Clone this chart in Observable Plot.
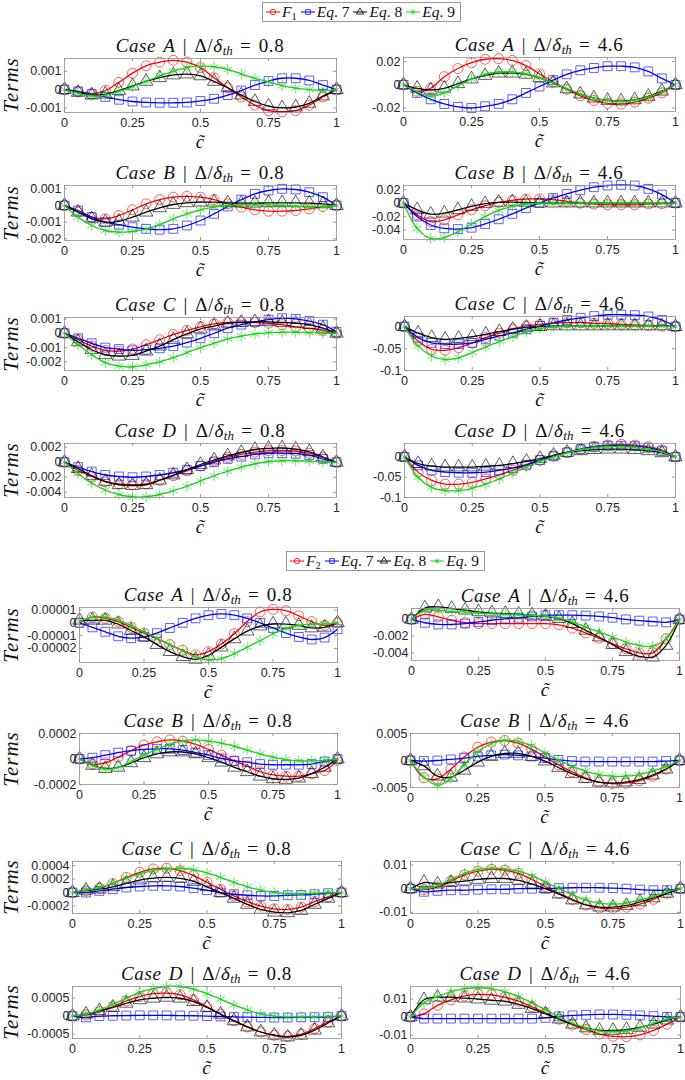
<!DOCTYPE html>
<html><head><meta charset="utf-8">
<script src="https://cdn.jsdelivr.net/npm/d3@7"></script>
<script src="https://cdn.jsdelivr.net/npm/@observablehq/plot@0.6"></script>
<style>
body{margin:0;background:#fff;}
#root{position:relative;width:685px;height:1080px;overflow:hidden;font-family:"Liberation Serif","DejaVu Serif",serif;color:#111;}
.abs{position:absolute;white-space:nowrap;}
.title{font-size:19px;transform:translate(-50%,-50%);line-height:1;font-weight:normal;letter-spacing:0.6px;word-spacing:2px;}
.title sub{font-size:68%;vertical-align:-0.3em;line-height:0;letter-spacing:0;}
.xlab{font-size:19px;font-style:italic;transform:translate(-50%,-50%);line-height:1;}
.ylab{font-size:21px;font-style:italic;letter-spacing:1px;transform:translate(-50%,-50%) rotate(-90deg);line-height:1;}
.legend{border:1px solid #9a9a9a;background:#fff;display:flex;align-items:center;height:18px;padding:0 2px;font-size:15.5px;line-height:1;}
.legend .it{display:flex;align-items:center;margin-right:3px;}
.legend sub{font-size:68%;vertical-align:-0.3em;line-height:0;}
svg.pl{position:absolute;}
</style></head><body><div id="root"></div>
<script>
// ---------- shared axes ----------
const cTilde = [0,0.05,0.1,0.15,0.2,0.25,0.3,0.35,0.4,0.45,0.5,0.55,0.6,0.65,0.7,0.75,0.8,0.85,0.9,0.95,1];
const xTicks = [0,0.25,0.5,0.75,1];
const cases = ["A","B","C","D"];
const ratios = ["0.8","4.6"];

// ---------- group 1 (F1), values in panel units ----------
const g1A08_F  = [0,-0.1,-0.22,-0.05,0.4,0.9,1.3,1.5,1.6,1.5,1.2,0.65,0.1,-0.4,-0.85,-1.15,-1.22,-1.15,-0.85,-0.4,0];
const g1A08_E7 = [0,-0.1,-0.25,-0.4,-0.55,-0.65,-0.7,-0.72,-0.72,-0.7,-0.62,-0.5,-0.3,-0.05,0.25,0.47,0.62,0.62,0.5,0.25,0];
const g1A08_E8 = [0,-0.15,-0.3,-0.25,-0.05,0.2,0.45,0.65,0.8,0.85,0.75,0.45,0.1,-0.3,-0.65,-0.9,-1.0,-0.95,-0.75,-0.35,0];
const g1A08_E9 = [0,-0.2,-0.35,-0.3,-0.1,0.15,0.45,0.75,1.0,1.2,1.28,1.25,1.1,0.85,0.62,0.42,0.22,0.08,0,-0.05,0];

const g1A46_F  = [0,-0.55,-0.3,0.7,1.4,1.9,2.2,2.25,2.1,1.65,0.95,0.25,-0.4,-0.95,-1.35,-1.6,-1.65,-1.5,-1.15,-0.7,0];
const g1A46_E7 = [0,-0.7,-1.25,-1.65,-1.9,-2.0,-1.85,-1.65,-1.25,-0.7,-0.15,0.4,0.9,1.25,1.45,1.6,1.6,1.5,1.15,0.55,0];
const g1A46_E8 = [0,-0.3,-0.45,-0.3,0.1,0.5,0.8,1.0,1.0,0.9,0.6,0.15,-0.35,-0.8,-1.15,-1.35,-1.4,-1.3,-1.0,-0.55,0];
const g1A46_E9 = [0,-0.6,-1.0,-0.7,-0.1,0.5,0.9,1.1,1.1,0.95,0.6,0.15,-0.35,-0.8,-1.15,-1.35,-1.45,-1.35,-1.05,-0.6,0];

const g1B08_F  = [0,-0.4,-0.7,-0.8,-0.6,-0.26,0.1,0.35,0.5,0.55,0.5,0.35,0.1,-0.1,-0.26,-0.34,-0.34,-0.3,-0.2,-0.06,0];
const g1B08_E7 = [0,-0.3,-0.7,-1.0,-1.15,-1.3,-1.4,-1.45,-1.4,-1.2,-0.9,-0.5,-0.06,0.35,0.7,0.9,1.0,0.96,0.8,0.5,0];
const g1B08_E8 = [0,-0.4,-0.8,-1.0,-0.95,-0.7,-0.4,-0.14,0.06,0.16,0.2,0.2,0.16,0.14,0.14,0.16,0.16,0.16,0.14,0.1,0];
const g1B08_E9 = [0,-0.7,-1.2,-1.5,-1.6,-1.55,-1.4,-1.15,-0.8,-0.5,-0.26,-0.1,0,0.04,0.04,0.04,0,-0.04,-0.06,-0.06,0];

const g1B46_F  = [0,-1.75,-2.75,-2.5,-1.75,-1.0,-0.4,0.1,0.4,0.6,0.6,0.5,0.25,0,-0.15,-0.25,-0.25,-0.25,-0.15,-0.1,0];
const g1B46_E7 = [0,-2.0,-3.25,-3.75,-3.85,-3.65,-3.1,-2.4,-1.6,-0.75,0,0.75,1.35,1.9,2.35,2.6,2.7,2.6,2.1,1.25,0];
const g1B46_E8 = [0,-1.0,-1.65,-1.5,-1.0,-0.5,-0.1,0.1,0.15,0.1,0,0,0,0,0,0,0,0,0,0,0];
const g1B46_E9 = [0,-3.75,-5.25,-5.1,-4.25,-3.1,-2.0,-1.1,-0.5,-0.15,0,0,0,0,0,0,0,0,0,0,0];

const g1C08_F  = [0,-0.45,-0.9,-1.2,-1.25,-1.1,-0.8,-0.45,-0.1,0.2,0.45,0.65,0.75,0.8,0.75,0.7,0.6,0.45,0.35,0.2,0];
const g1C08_E7 = [0,-0.35,-0.7,-1.0,-1.1,-1.2,-1.15,-1.05,-0.9,-0.65,-0.35,0,0.35,0.6,0.8,0.95,1.05,1.0,0.85,0.6,0.1];
const g1C08_E8 = [0,-0.6,-1.15,-1.5,-1.6,-1.55,-1.25,-0.9,-0.45,-0.05,0.3,0.5,0.7,0.75,0.8,0.8,0.75,0.7,0.6,0.35,0];
const g1C08_E9 = [0,-0.8,-1.5,-2.05,-2.3,-2.35,-2.2,-2.0,-1.7,-1.35,-1.0,-0.7,-0.4,-0.2,-0.05,0.05,0.07,0.07,0.05,0,0];

const g1C46_F  = [0,-3.3,-5.2,-5.4,-4.8,-3.7,-2.5,-1.5,-0.6,0.15,0.5,0.75,0.9,0.9,0.75,0.7,0.5,0.4,0.3,0.15,0];
const g1C46_E7 = [0,-2.5,-3.7,-4.0,-4.0,-3.7,-2.9,-2.1,-1.4,-0.6,0.15,0.9,1.5,2.0,2.4,2.7,2.7,2.6,2.3,1.5,0];
const g1C46_E8 = [0,-1.5,-2.5,-2.9,-2.7,-2.3,-1.75,-1.15,-0.6,-0.2,0,0.15,0.15,0.15,0.15,0.15,0.15,0.15,0.15,0.15,0];
const g1C46_E9 = [0,-4.4,-6.7,-7.5,-7.1,-5.9,-4.6,-3.4,-2.3,-1.2,-0.45,0,0.15,0.15,0.15,0.15,0.15,0.15,0.15,0.1,0];

const g1D08_F  = [0,-1.1,-1.9,-2.6,-2.9,-3.0,-2.9,-2.4,-1.8,-1.15,-0.5,0.15,0.65,1.05,1.35,1.55,1.55,1.5,1.2,0.65,0];
const g1D08_E7 = [0,-0.65,-1.25,-1.7,-1.9,-2.0,-1.9,-1.7,-1.4,-1.0,-0.5,0,0.45,0.75,1.05,1.2,1.2,1.15,0.95,0.45,0];
const g1D08_E8 = [0,-0.85,-1.8,-2.55,-3.0,-3.1,-3.0,-2.4,-1.7,-1.0,-0.3,0.3,0.85,1.3,1.7,1.85,1.9,1.75,1.4,0.7,0];
const g1D08_E9 = [0,-1.5,-2.8,-3.7,-4.3,-4.6,-4.6,-4.3,-3.8,-3.2,-2.5,-1.8,-1.2,-0.65,-0.2,0.1,0.2,0.2,0.15,0,0];

const g1D46_F  = [0,-3.75,-5.8,-6.7,-6.7,-6.25,-5.4,-4.4,-3.3,-2.1,-0.8,0.25,1.1,1.9,2.5,2.9,3.1,2.9,2.5,1.7,0];
const g1D46_E7 = [0,-2.1,-3.3,-3.75,-3.9,-3.9,-3.75,-3.3,-2.75,-1.9,-0.8,0.15,1.1,1.9,2.5,2.75,2.75,2.65,2.25,1.4,0];
const g1D46_E8 = [0,-1.65,-2.25,-2.5,-2.5,-2.5,-2.3,-2.1,-1.65,-1.1,-0.4,0.4,1.1,1.5,1.8,1.9,1.9,1.8,1.5,1.0,0];
const g1D46_E9 = [0,-5.0,-7.5,-8.3,-8.3,-7.75,-6.7,-5.4,-4.0,-2.5,-1.1,0,1.0,1.8,2.25,2.5,2.5,2.3,1.9,1.25,0];

// ---------- group 2 (F2) ----------
const g2A08_F  = [0,0.45,0.35,0.1,-0.35,-0.8,-1.25,-1.7,-2.15,-2.5,-2.25,-1.65,-0.85,0.1,0.85,1.05,0.95,0.55,0.1,-0.2,0];
const g2A08_E7 = [0,-0.35,-0.7,-1.05,-1.2,-1.1,-0.8,-0.4,0,0.35,0.6,0.7,0.6,0.35,0,-0.4,-0.8,-1.1,-1.3,-1.15,-0.5];
const g2A08_E8 = [0.2,0.2,0.2,-0.1,-0.6,-1.1,-1.7,-2.25,-2.65,-2.85,-2.55,-1.9,-1.25,-0.65,-0.25,-0.1,-0.1,-0.2,-0.4,-0.35,0];
const g2A08_E9 = [0.1,0.45,0.45,0.2,-0.2,-0.7,-1.2,-1.7,-2.2,-2.65,-2.9,-2.8,-2.4,-1.9,-1.4,-0.85,-0.45,-0.2,-0.1,-0.1,0];

const g2A46_F  = [0,0.6,0.3,-0.1,-0.4,-0.5,-0.5,-0.5,-0.5,-0.5,-0.5,-0.65,-1.05,-1.6,-2.25,-2.9,-3.5,-4.0,-4.0,-2.3,0];
const g2A46_E7 = [0,-0.4,-0.6,-0.6,-0.5,-0.3,-0.1,0.1,0.2,0.35,0.5,0.5,0.5,0.45,0.35,0.2,0,-0.15,-0.25,-0.35,0];
const g2A46_E8 = [0,1.35,1.5,1.3,1.1,0.9,0.75,0.7,0.6,0.5,0.35,0.1,-0.5,-1.3,-2.1,-3.0,-3.85,-4.4,-4.5,-3.1,0];
const g2A46_E9 = [0,1.1,1.1,0.95,0.9,0.75,0.7,0.6,0.55,0.5,0.4,0.15,-0.3,-0.9,-1.5,-2.1,-2.7,-3.1,-3.2,-2.3,0];

const g2B08_F  = [0,-0.4,-0.3,0.15,0.65,1.1,1.35,1.5,1.4,1.15,0.75,0.3,-0.15,-0.55,-1.0,-1.25,-1.35,-1.35,-1.15,-0.9,-0.1];
const g2B08_E7 = [0,0.1,0.3,0.5,0.65,0.75,0.8,0.8,0.7,0.5,0.3,0.05,-0.15,-0.25,-0.4,-0.45,-0.45,-0.45,-0.4,-0.2,0];
const g2B08_E8 = [0,-0.5,-0.75,-0.65,-0.3,0.1,0.4,0.55,0.55,0.4,0.1,-0.25,-0.65,-1.0,-1.35,-1.55,-1.6,-1.5,-1.15,-0.65,0];
const g2B08_E9 = [0,-0.5,-0.8,-0.65,-0.2,0.3,0.75,1.15,1.4,1.5,1.4,1.25,1.0,0.7,0.4,0.15,-0.05,-0.15,-0.15,-0.1,0];

const g2B46_F  = [0,-3.2,-3.4,-1.6,0.65,2.45,3.4,3.7,3.2,2.1,0.65,-0.8,-2.1,-3.2,-4.0,-4.3,-4.2,-3.75,-2.9,-1.6,0];
const g2B46_E7 = [0,-0.1,0,0.2,0.45,0.75,0.95,1.1,0.95,0.75,0.45,0.1,-0.1,-0.2,-0.2,-0.2,-0.2,-0.2,-0.2,-0.1,0];
const g2B46_E8 = [0,-1.0,-2.9,-3.1,-1.8,-0.3,0.75,1.3,1.3,0.75,-0.1,-1.3,-2.45,-3.35,-4.0,-4.2,-4.0,-3.55,-2.7,-1.6,0];
const g2B46_E9 = [0,-3.1,-4.6,-3.35,-0.8,1.6,3.1,3.75,3.55,2.7,1.4,0.1,-1.0,-1.95,-2.6,-2.9,-2.9,-2.6,-1.95,-1.15,0];

const g2C08_F  = [0,0.25,0.65,1.35,2.25,3.0,3.5,3.6,3.25,2.5,1.5,0.5,-0.5,-1.35,-2.0,-2.4,-2.5,-2.15,-1.35,-0.65,0];
const g2C08_E7 = [0,0,0.25,0.5,0.75,0.9,1.0,1.0,0.9,0.65,0.35,0,-0.25,-0.4,-0.5,-0.5,-0.4,-0.35,-0.25,-0.1,0];
const g2C08_E8 = [0,0.35,0.5,0.85,1.35,1.85,2.15,2.25,2.1,1.65,0.85,0,-0.85,-1.75,-2.5,-2.9,-3.0,-2.65,-1.75,-0.85,0];
const g2C08_E9 = [0,0.35,0.75,1.35,2.1,2.75,3.25,3.5,3.6,3.4,2.9,2.25,1.5,0.85,0.35,0,-0.15,-0.15,-0.1,0,0];

const g2C46_F  = [0,-0.4,0.65,3.2,5.8,7.4,8.2,7.8,6.5,3.9,0.9,-1.95,-4.5,-6.9,-8.2,-8.4,-7.8,-6.5,-4.5,-1.95,0];
const g2C46_E7 = [0,-1.3,-0.9,-0.65,-0.65,-0.4,-0.25,-0.25,0,0,0,0.25,0.4,0.4,0.4,0.25,0,-0.4,-0.65,-0.65,0];
const g2C46_E8 = [0,2.6,1.95,2.6,3.2,3.9,4.3,4.3,3.5,1.95,0,-2.3,-4.8,-6.9,-7.8,-7.8,-7.1,-5.6,-3.9,-1.95,0];
const g2C46_E9 = [0,0,1.3,3.9,6.5,8.2,8.8,8.4,7.4,5.45,2.85,0,-2.6,-4.8,-6.1,-6.5,-6.1,-4.8,-3.25,-1.3,0];

const g2D08_F  = [0,0.3,1.2,2.6,4.2,5.4,6.2,6.35,5.9,4.5,2.6,0.55,-1.3,-3.0,-4.4,-5.3,-5.6,-5.0,-3.45,-1.6,0];
const g2D08_E7 = [0,-0.35,0,0.1,0.15,0.2,0.2,0.2,0.15,0.1,0,-0.1,-0.2,-0.3,-0.35,-0.4,-0.4,-0.35,-0.3,-0.2,0];
const g2D08_E8 = [0,0.55,1.5,2.4,3.55,4.5,4.95,5.2,4.95,4.0,2.4,0.55,-1.3,-3.0,-4.4,-5.3,-5.8,-5.3,-3.9,-1.9,0];
const g2D08_E9 = [0,0.55,1.7,3.25,4.95,6.55,7.6,8.2,8.2,7.5,6.2,4.7,3.1,1.7,0.55,0,-0.2,-0.2,-0.2,0,0];

const g2D46_F  = [0,1.75,6.5,9.6,11.75,12.6,12.3,11.0,8.8,5.6,2.3,-1.2,-4.4,-7.0,-9.5,-10.8,-11.0,-10.0,-7.5,-4.0,0];
const g2D46_E7 = [0,-0.9,-0.9,-0.9,-0.9,-0.9,-0.9,-0.9,-0.9,-0.9,-0.5,0.35,0.9,1.2,1.4,1.4,1.2,0.9,0.5,0,0];
const g2D46_E8 = [0,9.6,11.0,11.0,10.5,10.0,9.3,8.8,7.0,4.7,1.75,-1.2,-4.0,-6.1,-7.5,-7.5,-7.0,-5.8,-4.0,-1.75,0];
const g2D46_E9 = [0,7.9,11.4,14.0,15.8,16.3,15.8,14.0,11.4,7.9,4.0,0,-3.5,-6.1,-7.9,-8.2,-7.9,-6.1,-3.5,-1.2,0];

// units, y-domains and y tick values per panel
const units = {g1A08:1e-3,g1A46:1e-2,g1B08:1e-3,g1B46:1e-2,g1C08:1e-3,g1C46:1e-2,g1D08:1e-3,g1D46:1e-2,
               g2A08:1e-5,g2A46:1e-3,g2B08:1e-4,g2B46:1e-3,g2C08:1e-4,g2C46:1e-3,g2D08:1e-4,g2D46:1e-3};
const yDomains = {g1A08:[-0.00125,0.0017],g1A46:[-0.023,0.0235],g1B08:[-0.0021,0.0012],g1B46:[-0.054,0.026],
  g1C08:[-0.0026,0.0011],g1C46:[-0.1,0.023],g1D08:[-0.0047,0.0025],g1D46:[-0.1,0.033],
  g2A08:[-0.000031,0.000012],g2A46:[-0.0049,0.0013],g2B08:[-0.0002,0.0002],g2B46:[-0.005,0.005],
  g2C08:[-0.00031,0.00046],g2C46:[-0.0105,0.0115],g2D08:[-0.00062,0.00082],g2D46:[-0.012,0.017]};
const yTicks = {g1A08:[-0.001,0,0.001],g1A46:[-0.02,0,0.02],g1B08:[-0.002,-0.001,0,0.001],g1B46:[-0.04,-0.02,0,0.02],
  g1C08:[-0.002,-0.001,0,0.001],g1C46:[-0.1,-0.05,0],g1D08:[-0.004,-0.002,0,0.002],g1D46:[-0.1,-0.05,0],
  g2A08:[-0.00002,-0.00001,0,0.00001],g2A46:[-0.004,-0.002,0],g2B08:[-0.0002,0,0.0002],g2B46:[-0.005,0,0.005],
  g2C08:[-0.0002,0,0.0002,0.0004],g2C46:[-0.01,0,0.01],g2D08:[-0.0005,0,0.0005],g2D46:[-0.01,0,0.01]};

const seriesData = {
  g1A08:{F:g1A08_F,E7:g1A08_E7,E8:g1A08_E8,E9:g1A08_E9}, g1A46:{F:g1A46_F,E7:g1A46_E7,E8:g1A46_E8,E9:g1A46_E9},
  g1B08:{F:g1B08_F,E7:g1B08_E7,E8:g1B08_E8,E9:g1B08_E9}, g1B46:{F:g1B46_F,E7:g1B46_E7,E8:g1B46_E8,E9:g1B46_E9},
  g1C08:{F:g1C08_F,E7:g1C08_E7,E8:g1C08_E8,E9:g1C08_E9}, g1C46:{F:g1C46_F,E7:g1C46_E7,E8:g1C46_E8,E9:g1C46_E9},
  g1D08:{F:g1D08_F,E7:g1D08_E7,E8:g1D08_E8,E9:g1D08_E9}, g1D46:{F:g1D46_F,E7:g1D46_E7,E8:g1D46_E8,E9:g1D46_E9},
  g2A08:{F:g2A08_F,E7:g2A08_E7,E8:g2A08_E8,E9:g2A08_E9}, g2A46:{F:g2A46_F,E7:g2A46_E7,E8:g2A46_E8,E9:g2A46_E9},
  g2B08:{F:g2B08_F,E7:g2B08_E7,E8:g2B08_E8,E9:g2B08_E9}, g2B46:{F:g2B46_F,E7:g2B46_E7,E8:g2B46_E8,E9:g2B46_E9},
  g2C08:{F:g2C08_F,E7:g2C08_E7,E8:g2C08_E8,E9:g2C08_E9}, g2C46:{F:g2C46_F,E7:g2C46_E7,E8:g2C46_E8,E9:g2C46_E9},
  g2D08:{F:g2D08_F,E7:g2D08_E7,E8:g2D08_E8,E9:g2D08_E9}, g2D46:{F:g2D46_F,E7:g2D46_E7,E8:g2D46_E8,E9:g2D46_E9}
};

// ---------- layout (frame left, top, right, bottom) ----------
const frames = {
  g1A08:[64,58,336,112], g1A46:[403,57,675,111],
  g1B08:[64,185,336,240], g1B46:[403,185,675,239],
  g1C08:[64,317,336,370], g1C46:[404,316,675,370],
  g1D08:[64,443,336,497], g1D46:[404,443,675,497],
  g2A08:[79,607,337,662], g2A46:[411,608,679,660],
  g2B08:[79,733,337,784], g2B46:[410,733,679,787],
  g2C08:[72,861,341,913], g2C46:[410,861,680,913],
  g2D08:[72,986,341,1038], g2D46:[410,986,680,1038]
};
const legendPos = {g1:[262,2], g2:[286,551]};

const styles = {
  F:{stroke:"#ff0000", symbol:"circle"},
  E7:{stroke:"#0000ff", symbol:"square"},
  E8:{stroke:"#000000", symbol:"triangle"},
  E9:{stroke:"#1ccf1c", symbol:"asterisk"}
};
const order = ["F","E7","E8","E9"];
const root = document.getElementById("root");
const fmt = d => String(d);

function addDiv(cls, html, x, y) {
  const d = document.createElement("div");
  d.className = "abs " + cls;
  d.innerHTML = html;
  d.style.left = x + "px"; d.style.top = y + "px";
  root.appendChild(d);
}

function makePanel(g, ci, ri) {
  const key = g + cases[ri] + (ci === 0 ? "08" : "46");
  const [L, T, R, B] = frames[key];
  const w = R - L, h = B - T;
  const ml = 80, mr = 12, mt = 10, mb = 26;
  const u = units[key];
  const marks = [];
  marks.push(Plot.tickX(xTicks, {x: d => d, insetTop: h - 3, stroke: "#555", strokeWidth: 0.6}));
  marks.push(Plot.tickX(xTicks, {x: d => d, insetBottom: h - 3, stroke: "#555", strokeWidth: 0.6}));
  marks.push(Plot.tickY(yTicks[key], {y: d => d, insetRight: w - 3, stroke: "#555", strokeWidth: 0.6}));
  marks.push(Plot.tickY(yTicks[key], {y: d => d, insetLeft: w - 3, stroke: "#555", strokeWidth: 0.6}));
  for (const k of order) {
    const rows = cTilde.map((x, i) => ({x, y: seriesData[key][k][i] * u}));
    const st = styles[k];
    marks.push(Plot.line(rows, {x: "x", y: "y", stroke: st.stroke, strokeWidth: 1.3, curve: "catmull-rom"}));
    marks.push(Plot.dot(rows, {x: "x", y: "y", stroke: st.stroke, symbol: st.symbol, r: 5, strokeWidth: 0.9, strokeOpacity: 0.7, fill: "none"}));
  }
  marks.push(Plot.frame({stroke: "#8f8f8f", strokeWidth: 0.8}));
  marks.push(Plot.axisX(xTicks, {tickSize: 0, tickPadding: 6, tickFormat: fmt, label: null}));
  marks.push(Plot.axisY(yTicks[key], {tickSize: 0, tickPadding: 3, tickFormat: fmt, label: null}));
  const svg = Plot.plot({
    width: w + ml + mr, height: h + mt + mb,
    marginLeft: ml, marginRight: mr, marginTop: mt, marginBottom: mb,
    x: {domain: [0, 1]}, y: {domain: yDomains[key]},
    style: {fontFamily: "'Liberation Sans', Arial, sans-serif", fontSize: "12.5px", color: "#262626", background: "transparent", overflow: "visible"},
    marks
  });
  svg.classList.add("pl");
  svg.style.left = (L - ml) + "px";
  svg.style.top = (T - mt) + "px";
  root.appendChild(svg);
  const cx = (L + R) / 2;
  addDiv("title", `<i>Case ${cases[ri]}</i> | Δ/<i>δ</i><sub><i>th</i></sub> = ${ratios[ci]}`, cx, T - 13);
  addDiv("xlab", "c&#771;", cx, B + 29);
  if (ci === 0) addDiv("ylab", "Terms", 11, (T + B) / 2);
}

function sample(k) {
  const st = styles[k];
  const sym = {circle: d3.symbolCircle, square: d3.symbolSquare, triangle: d3.symbolTriangle, asterisk: d3.symbolAsterisk}[st.symbol];
  const p = d3.symbol(sym, 22)();
  return `<svg width="16" height="12" style="margin-right:1px"><line x1="1" x2="15" y1="6" y2="6" stroke="${st.stroke}" stroke-width="1"/><path d="${p}" transform="translate(8,6)" fill="none" stroke="${st.stroke}" stroke-width="0.8"/></svg>`;
}
function makeLegend(g, idx) {
  const [x, y] = legendPos[g];
  const labels = {F: `<i>F</i><sub>${idx}</sub>`, E7: "<i>Eq</i>. 7", E8: "<i>Eq</i>. 8", E9: "<i>Eq</i>. 9"};
  const html = order.map(k => `<span class="it">${sample(k)}<span>${labels[k]}</span></span>`).join("");
  const d = document.createElement("div");
  d.className = "abs legend";
  d.innerHTML = html;
  d.style.left = x + "px"; d.style.top = y + "px";
  root.appendChild(d);
}

["g1", "g2"].forEach((g, gi) => {
  makeLegend(g, gi + 1);
  for (let ri = 0; ri < 4; ri++) for (let ci = 0; ci < 2; ci++) makePanel(g, ci, ri);
});
</script>
</body></html>
